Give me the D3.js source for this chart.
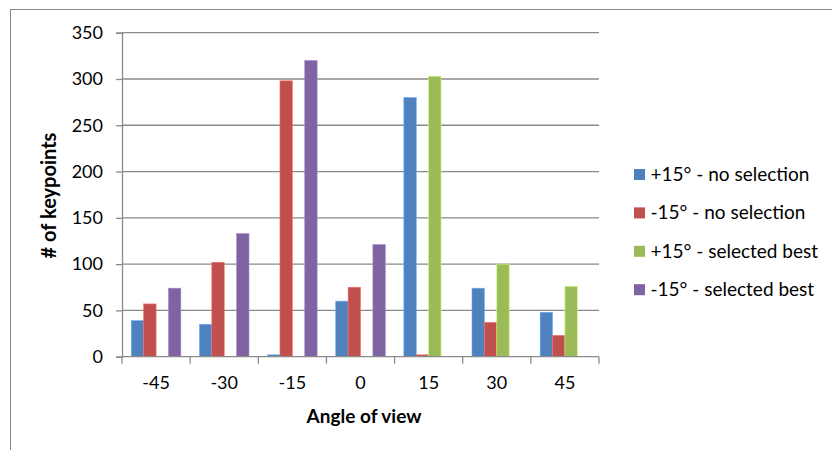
<!DOCTYPE html>
<html>
<head>
<meta charset="utf-8">
<script src="https://cdn.jsdelivr.net/npm/d3@7/dist/d3.min.js"></script>
<style>
  html, body { margin: 0; padding: 0; background: #fff; }
  svg { display: block; }
  text { font-family: Lato, "Open Sans", sans-serif; fill: #000; }
</style>
</head>
<body>
<svg id="chart" width="832" height="450"></svg>
<script>
const categories = ["-45", "-30", "-15", "0", "15", "30", "45"];
const seriesNames = ["+15° - no selection", "-15° - no selection", "+15° - selected best", "-15° - selected best"];
const plusNoSel  = [39, 35, 2, 60, 280, 74, 48];
const minusNoSel = [57, 102, 298, 75, 2, 37, 23];
const plusBest   = [0, 0, 0, 0, 303, 100, 76];
const minusBest  = [74, 133, 320, 121, 0, 0, 0];
const seriesColors = ["#4F81BD", "#C0504D", "#9BBB59", "#8064A2"];
const yTicks = [0, 50, 100, 150, 200, 250, 300, 350];
const yTitle = "# of keypoints";
const xTitle = "Angle of view";

const seriesValues = [plusNoSel, minusNoSel, plusBest, minusBest];

(function () {
const svg = d3.select("#chart");
const pLeft = 122, pRight = 599, pTop = 32.7, pBottom = 356.7;

// chart border
svg.append("rect").attr("x", 10.5).attr("y", 9.5).attr("width", 840).attr("height", 460)
  .attr("fill", "none").attr("stroke", "#8a8a8a").attr("stroke-width", 1);

const x0 = d3.scaleBand().domain(categories).range([pLeft, pRight]).padding(0);
const x1 = d3.scaleBand().domain(d3.range(seriesNames.length)).range([0, x0.bandwidth()])
  .paddingInner(0).paddingOuter(0.75);
const y = d3.scaleLinear().domain([0, 350]).range([pBottom, pTop]);

// gridlines
svg.append("g").selectAll("line").data(yTicks.filter(d => d > 0)).join("line")
  .attr("x1", pLeft).attr("x2", pRight)
  .attr("y1", d => y(d)).attr("y2", d => y(d))
  .attr("stroke", "#8a8a8a").attr("stroke-width", 1.3);

// bars
const rows = categories.map((c, i) => ({ c, vals: seriesValues.map(s => s[i]) }));
const groups = svg.append("g").selectAll("g").data(rows).join("g")
  .attr("transform", d => `translate(${x0(d.c)},0)`);
groups.selectAll("rect").data(d => d.vals.map((v, k) => ({ v, k }))).join("rect")
  .attr("x", d => x1(d.k))
  .attr("width", x1.bandwidth())
  .attr("y", d => y(d.v))
  .attr("height", d => y(0) - y(d.v))
  .attr("fill", d => seriesColors[d.k])
  .attr("stroke", d => d3.color(seriesColors[d.k]).brighter(0.8))
  .attr("stroke-width", d => d.v > 0 ? 0.6 : 0);

// y axis
const yAxis = svg.append("g").attr("transform", `translate(${pLeft},0)`)
  .call(d3.axisLeft(y).tickValues(yTicks).tickSize(6).tickPadding(13).tickFormat(d3.format("d")));
yAxis.select(".domain").attr("stroke", "#8a8a8a").attr("stroke-width", 1.3);
yAxis.selectAll(".tick line").attr("stroke", "#8a8a8a").attr("stroke-width", 1.3);
yAxis.selectAll(".tick text").attr("font-size", 18).attr("font-family", "Lato, sans-serif").attr("fill", "#000");

// x axis (labels at category centers)
const xAxis = svg.append("g").attr("transform", `translate(0,${pBottom})`)
  .call(d3.axisBottom(x0).tickSize(0).tickPadding(20));
xAxis.select(".domain").remove();
xAxis.selectAll(".tick text").attr("font-size", 18).attr("font-family", "Lato, sans-serif").attr("fill", "#000");
svg.append("line").attr("x1", pLeft).attr("x2", pRight).attr("y1", pBottom).attr("y2", pBottom)
  .attr("stroke", "#8a8a8a").attr("stroke-width", 1.3);
// boundary ticks
svg.append("g").selectAll("line").data(d3.range(categories.length + 1)).join("line")
  .attr("x1", i => pLeft + i * x0.step()).attr("x2", i => pLeft + i * x0.step())
  .attr("y1", pBottom).attr("y2", pBottom + 7)
  .attr("stroke", "#8a8a8a").attr("stroke-width", 1.3);

// axis titles
svg.append("text").attr("x", 364).attr("y", 423)
  .attr("text-anchor", "middle").attr("font-weight", "bold").attr("font-size", 19)
  .text(xTitle);
svg.append("text").attr("transform", `translate(56,195.5) rotate(-90)`)
  .attr("text-anchor", "middle").attr("font-weight", "bold").attr("font-size", 20)
  .text(yTitle);

// legend
const legend = svg.append("g").selectAll("g").data(seriesNames).join("g")
  .attr("transform", (d, i) => `translate(634,${175 + i * 38.4})`);
legend.append("rect").attr("x", 0).attr("y", -6).attr("width", 11).attr("height", 11)
  .attr("fill", (d, i) => seriesColors[i]);
legend.append("text").attr("x", 16.5).attr("y", 6).attr("font-size", 19).text(d => d);
})();
</script>
</body>
</html>
